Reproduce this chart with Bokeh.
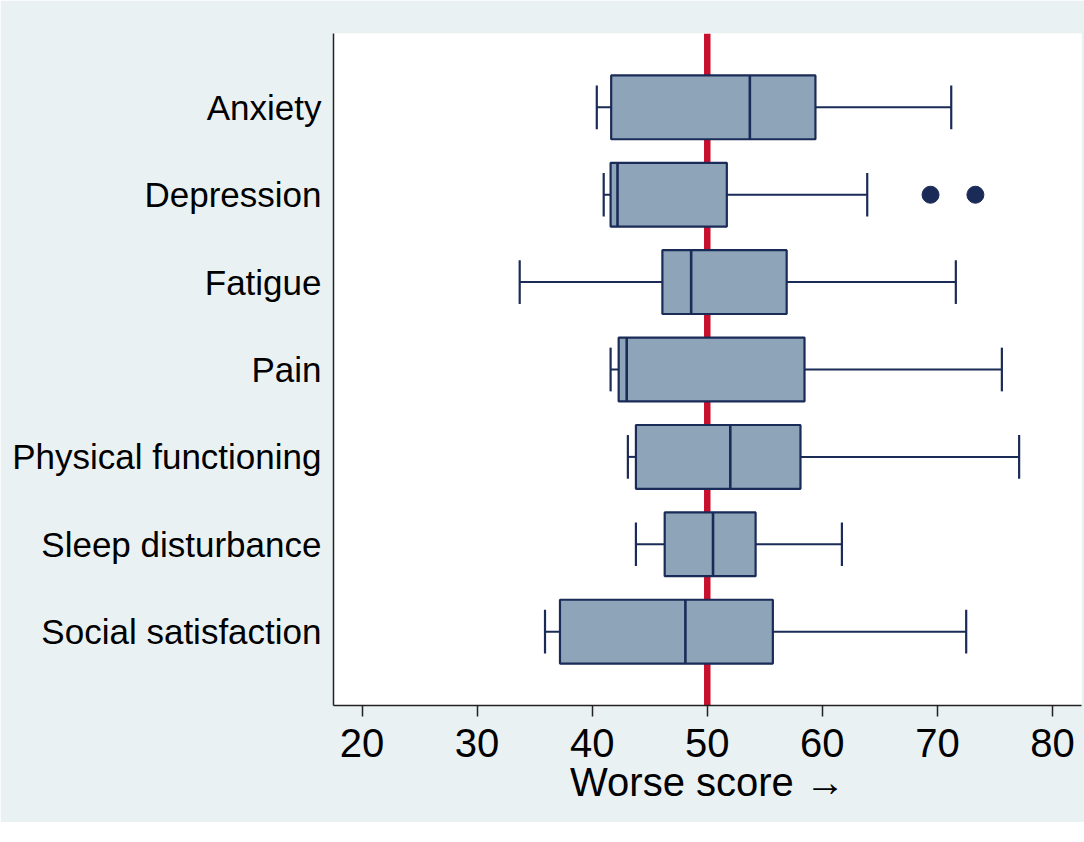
from bokeh.plotting import figure
from bokeh.models import FactorRange, Span, FixedTicker
from bokeh.embed import file_html
from bokeh.resources import INLINE

# ---- data ----
categories = ["Anxiety", "Depression", "Fatigue", "Pain",
              "Physical functioning", "Sleep disturbance", "Social satisfaction"]
lower_whisker = [40.4, 41.0, 33.7, 41.6, 43.1, 43.8, 35.9]
q1 = [41.65, 41.6, 46.1, 42.3, 43.8, 46.3, 37.2]
median = [53.7, 42.2, 48.6, 43.0, 52.0, 50.5, 48.1]
q3 = [59.4, 51.7, 56.9, 58.45, 58.1, 54.2, 55.7]
upper_whisker = [71.2, 63.9, 71.6, 75.6, 77.1, 61.7, 72.5]
outlier_category = ["Depression", "Depression"]
outlier_value = [69.4, 73.3]
reference_value = 50
x_ticks = [20, 30, 40, 50, 60, 70, 80]
x_title = "Worse score \u2192"

# ---- styles ----
BG = "#EAF1F3"
BOX_FILL = "#8EA4B8"
NAVY = "#1A2B57"
RED = "#C8102E"
FONT = "Liberation Sans"

p = figure(width=1084, height=822,
           x_range=(17.52, 82.52),
           y_range=FactorRange(factors=categories[::-1], range_padding=0.345,
                               range_padding_units="absolute"),
           output_backend="svg", toolbar_location=None,
           min_border_left=333, min_border_right=3,
           min_border_top=33, min_border_bottom=117)

p.border_fill_color = BG
p.background_fill_color = "white"
p.outline_line_color = None
p.xgrid.visible = False
p.ygrid.visible = False

# reference line under the boxes
p.add_layout(Span(location=reference_value, dimension="height",
                  line_color=RED, line_width=6.5, level="underlay"))

# whiskers
p.segment(x0=lower_whisker, y0=categories, x1=q1, y1=categories,
          line_color=NAVY, line_width=2)
p.segment(x0=q3, y0=categories, x1=upper_whisker, y1=categories,
          line_color=NAVY, line_width=2)
# caps
p.rect(x=lower_whisker, y=categories, width=2.2, width_units="screen",
       height=0.5, fill_color=NAVY, line_color=None)
p.rect(x=upper_whisker, y=categories, width=2.2, width_units="screen",
       height=0.5, fill_color=NAVY, line_color=None)
# boxes
p.hbar(y=categories, left=q1, right=q3, height=0.73,
       fill_color=BOX_FILL, line_color=NAVY, line_width=2.2)
# medians
p.rect(x=median, y=categories, width=2.6, width_units="screen",
       height=0.73, fill_color=NAVY, line_color=None)
# outliers
p.scatter(x=outlier_value, y=outlier_category, size=17,
          fill_color=NAVY, line_color=NAVY)

# x axis
xa = p.xaxis[0]
xa.ticker = FixedTicker(ticks=x_ticks)
xa.minor_tick_line_color = None
xa.major_tick_in = 0
xa.major_tick_out = 11
xa.major_tick_line_color = "#222222"
xa.major_tick_line_width = 1.5
xa.axis_line_color = "#222222"
xa.axis_line_width = 1.5
xa.major_label_text_font = FONT
xa.major_label_text_font_size = "40px"
xa.major_label_text_color = "black"
xa.major_label_standoff = 12
xa.axis_label = x_title
xa.axis_label_text_font = FONT
xa.axis_label_text_font_size = "40px"
xa.axis_label_text_font_style = "normal"
xa.axis_label_text_color = "black"
xa.axis_label_standoff = 0

# y axis
ya = p.yaxis[0]
ya.major_tick_in = 0
ya.major_tick_out = 0
ya.minor_tick_line_color = None
ya.axis_line_color = "#222222"
ya.axis_line_width = 1.5
ya.major_label_text_font = FONT
ya.major_label_text_font_size = "35px"
ya.major_label_text_color = "black"
ya.major_label_standoff = 12

open("out.html", "w").write(file_html(p, INLINE))
